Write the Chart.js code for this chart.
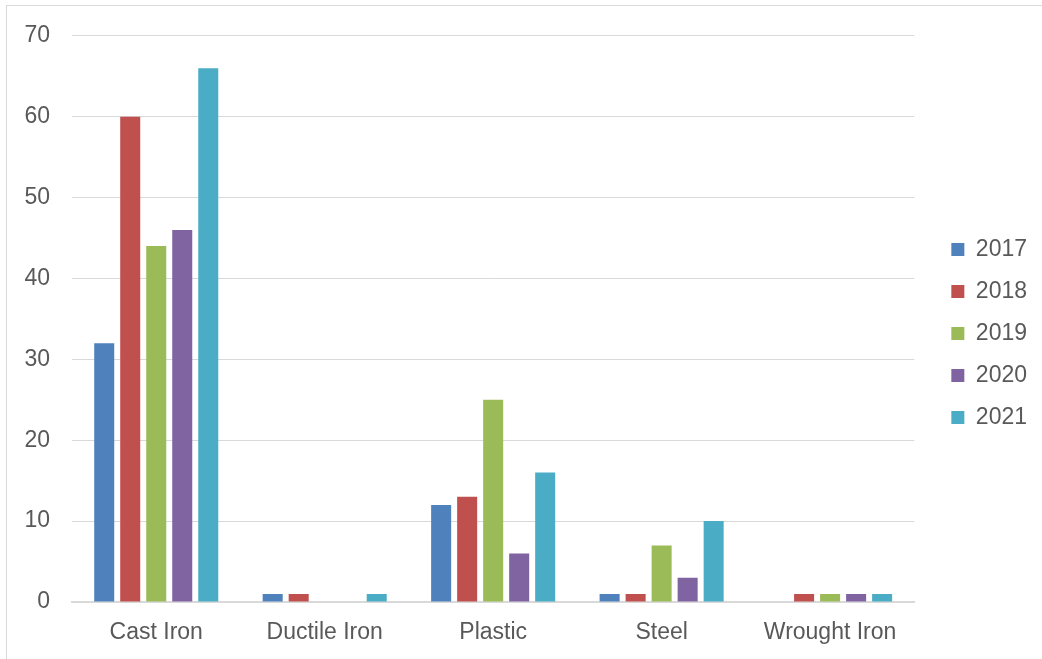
<!DOCTYPE html>
<html>
<head>
<meta charset="utf-8">
<script src="https://cdn.jsdelivr.net/npm/chart.js@4"></script>
<style>
  html, body { margin: 0; padding: 0; background: #ffffff; }
  #wrap { position: relative; width: 1042px; height: 659px; overflow: hidden; }
  #frame { position: absolute; left: 6px; top: 5px; width: 1100px; height: 700px; border: 1px solid #d9d9d9; box-sizing: border-box; }
  #chart { position: absolute; left: 0; top: 0; }
</style>
</head>
<body>
<div id="wrap">
  <div id="frame"></div>
  <canvas id="chart" width="1042" height="659"></canvas>
</div>
<script>
// Pipe material categories and yearly counts
const categories = ['Cast Iron', 'Ductile Iron', 'Plastic', 'Steel', 'Wrought Iron'];
const years = ['2017', '2018', '2019', '2020', '2021'];
const values2017 = [32, 1, 12, 1, 0];
const values2018 = [60, 1, 13, 1, 1];
const values2019 = [44, 0, 25, 7, 1];
const values2020 = [46, 0, 6, 3, 1];
const values2021 = [66, 1, 16, 10, 1];
const yTicks = [0, 10, 20, 30, 40, 50, 60, 70];

const seriesValues = [values2017, values2018, values2019, values2020, values2021];
const seriesColors = ['#4f81bd', '#c0504d', '#9bbb59', '#8064a2', '#4bacc6'];

const font = { family: "'Liberation Sans', Arial, sans-serif", size: 23 };
const textColor = '#595959';

// Nudge the legend column away from the plot area
const legendOffset = {
  id: 'legendOffset',
  afterLayout(chart) {
    const lg = chart.legend;
    if (!lg) return;
    lg.left += 18; lg.right += 18;
    lg.top -= 9; lg.bottom -= 9;
  }
};

new Chart(document.getElementById('chart'), {
  type: 'bar',
  data: {
    labels: categories,
    datasets: years.map((y, i) => ({
      label: y,
      data: seriesValues[i],
      backgroundColor: seriesColors[i],
      borderWidth: 0,
      barPercentage: 0.77,
      categoryPercentage: 0.772
    }))
  },
  options: {
    responsive: false,
    animation: false,
    layout: { padding: { left: 0, top: 33, right: 23, bottom: 7 } },
    plugins: {
      legend: {
        position: 'right',
        align: 'center',
        labels: {
          font: font,
          color: textColor,
          boxWidth: 13,
          boxHeight: 13,
          padding: 19
        }
      },
      tooltip: { enabled: false }
    },
    scales: {
      x: {
        grid: { display: false, drawTicks: false },
        border: { display: true, color: '#d9d9d9', width: 2 },
        ticks: { font: font, color: textColor, padding: 17, maxRotation: 0 },
        afterFit: (s) => { s.height = 50; }
      },
      y: {
        min: 0,
        max: 70,
        afterBuildTicks: (s) => { s.ticks = yTicks.map(v => ({ value: v })); },
        grid: { color: '#d9d9d9', lineWidth: 1, drawTicks: false },
        border: { display: false },
        ticks: { font: font, color: textColor, padding: 22 },
        afterFit: (s) => { s.width = 72; }
      }
    }
  },
  plugins: [legendOffset]
});
</script>
</body>
</html>
